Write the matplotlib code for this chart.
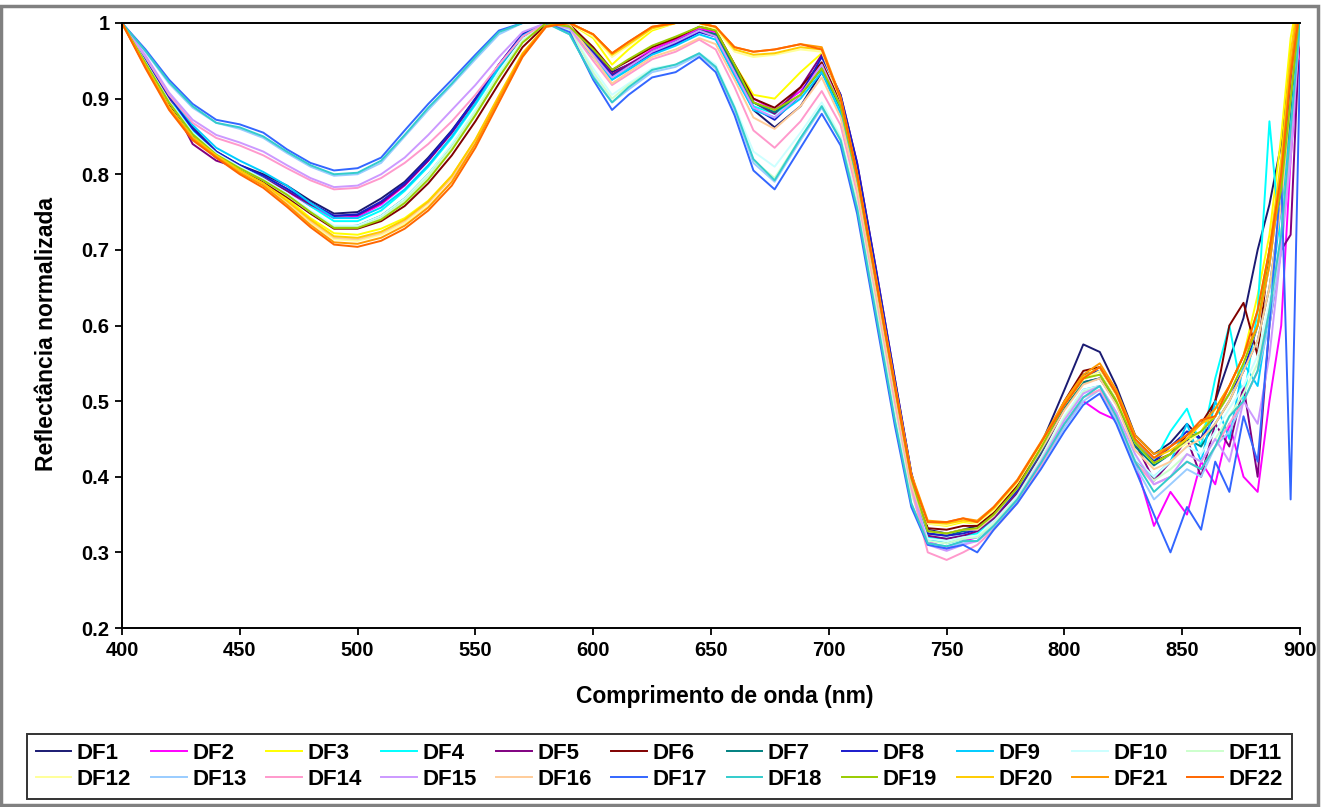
import matplotlib
matplotlib.use("Agg")
import matplotlib.pyplot as plt
from matplotlib.patches import Rectangle

plt.rcParams['font.family'] = ['Liberation Sans', 'DejaVu Sans']

# wavelength grid (nm)
wl = [400, 410, 420, 430, 440, 450, 460, 470, 480, 490, 500, 510, 520, 530, 540, 550, 560, 570, 580, 590,
      600, 608, 615, 625, 635, 645, 652, 660, 668, 677, 688, 697,
      705, 712, 720, 728, 735, 742, 750, 757, 763, 770, 780, 790, 800,
      808, 815, 822, 830, 838, 845, 852, 858, 864, 870, 876, 882, 887, 892, 896, 900]

names = ['DF%d' % i for i in range(1, 23)]
colors = ['#1a1a72', '#ff00ff', '#ffff00', '#00ffff', '#800080', '#800000', '#008080', '#1a1acc',
          '#00ccff', '#ccffff', '#ccffcc', '#ffff99', '#99ccff', '#ff99cc', '#cc99ff', '#ffcc99',
          '#3366ff', '#33cccc', '#99cc00', '#ffcc00', '#ff9900', '#ff6600']

DF1 = [1.00, 0.955, 0.905, 0.862, 0.830, 0.812, 0.800, 0.785, 0.765, 0.748, 0.750, 0.768, 0.790, 0.822, 0.858, 0.900, 0.945, 0.985, 1.00, 0.995,
       0.965, 0.935, 0.945, 0.960, 0.972, 0.990, 0.985, 0.935, 0.885, 0.862, 0.890, 0.935,
       0.890, 0.795, 0.655, 0.515, 0.395, 0.330, 0.325, 0.330, 0.335, 0.352, 0.388, 0.442, 0.515,
       0.575, 0.565, 0.520, 0.455, 0.430, 0.445, 0.470, 0.450, 0.500, 0.555, 0.610, 0.700, 0.760, 0.840, 0.950, 1.03]
DF2 = [1.00, 0.950, 0.900, 0.858, 0.828, 0.810, 0.795, 0.778, 0.758, 0.742, 0.744, 0.760, 0.785, 0.818, 0.855, 0.898, 0.945, 0.985, 1.00, 0.995,
       0.962, 0.932, 0.945, 0.965, 0.978, 0.992, 0.988, 0.945, 0.900, 0.885, 0.910, 0.945,
       0.895, 0.800, 0.660, 0.520, 0.400, 0.315, 0.305, 0.315, 0.320, 0.340, 0.372, 0.420, 0.470,
       0.500, 0.485, 0.475, 0.420, 0.335, 0.380, 0.350, 0.420, 0.390, 0.470, 0.400, 0.380, 0.500, 0.600, 0.820, 0.98]
DF3 = [1.00, 0.945, 0.890, 0.850, 0.826, 0.806, 0.790, 0.768, 0.742, 0.722, 0.720, 0.728, 0.742, 0.765, 0.798, 0.845, 0.902, 0.958, 0.995, 1.00,
       0.980, 0.945, 0.965, 0.990, 1.00, 1.00, 0.990, 0.945, 0.905, 0.900, 0.935, 0.960,
       0.900, 0.800, 0.662, 0.522, 0.402, 0.338, 0.335, 0.340, 0.338, 0.355, 0.390, 0.440, 0.495,
       0.530, 0.540, 0.505, 0.445, 0.420, 0.430, 0.445, 0.460, 0.490, 0.520, 0.560, 0.640, 0.720, 0.850, 0.980, 1.05]
DF4 = [1.00, 0.952, 0.900, 0.858, 0.828, 0.810, 0.796, 0.780, 0.758, 0.738, 0.738, 0.752, 0.778, 0.810, 0.848, 0.892, 0.940, 0.982, 1.00, 0.992,
       0.955, 0.925, 0.940, 0.960, 0.975, 0.990, 0.982, 0.935, 0.890, 0.880, 0.905, 0.940,
       0.885, 0.790, 0.650, 0.510, 0.390, 0.320, 0.318, 0.322, 0.325, 0.345, 0.380, 0.432, 0.495,
       0.535, 0.540, 0.500, 0.440, 0.420, 0.460, 0.490, 0.440, 0.530, 0.600, 0.500, 0.620, 0.870, 0.700, 0.900, 1.02]
DF5 = [1.00, 0.950, 0.900, 0.840, 0.818, 0.808, 0.795, 0.778, 0.760, 0.745, 0.746, 0.762, 0.786, 0.818, 0.855, 0.898, 0.942, 0.982, 1.00, 0.995,
       0.962, 0.932, 0.945, 0.962, 0.975, 0.990, 0.985, 0.940, 0.895, 0.880, 0.915, 0.958,
       0.905, 0.815, 0.675, 0.530, 0.405, 0.322, 0.318, 0.322, 0.328, 0.345, 0.378, 0.430, 0.490,
       0.525, 0.530, 0.500, 0.445, 0.395, 0.420, 0.450, 0.400, 0.470, 0.440, 0.520, 0.400, 0.600, 0.700, 0.720, 1.00]
DF6 = [1.00, 0.945, 0.893, 0.850, 0.822, 0.805, 0.790, 0.770, 0.748, 0.728, 0.728, 0.738, 0.758, 0.788, 0.825, 0.870, 0.920, 0.968, 0.998, 0.998,
       0.968, 0.938, 0.950, 0.968, 0.980, 0.995, 0.990, 0.945, 0.900, 0.888, 0.915, 0.948,
       0.895, 0.800, 0.662, 0.520, 0.400, 0.332, 0.330, 0.335, 0.335, 0.352, 0.388, 0.440, 0.500,
       0.540, 0.545, 0.510, 0.445, 0.420, 0.430, 0.455, 0.470, 0.500, 0.600, 0.630, 0.560, 0.700, 0.780, 0.900, 1.03]
DF7 = [1.00, 0.948, 0.896, 0.852, 0.825, 0.808, 0.792, 0.773, 0.750, 0.730, 0.732, 0.745, 0.768, 0.800, 0.838, 0.882, 0.930, 0.975, 1.00, 0.995,
       0.960, 0.930, 0.942, 0.962, 0.975, 0.990, 0.985, 0.940, 0.895, 0.882, 0.905, 0.940,
       0.888, 0.792, 0.652, 0.512, 0.392, 0.325, 0.322, 0.328, 0.330, 0.348, 0.382, 0.432, 0.490,
       0.525, 0.530, 0.498, 0.440, 0.415, 0.430, 0.450, 0.440, 0.470, 0.500, 0.540, 0.580, 0.650, 0.760, 0.880, 1.00]
DF8 = [1.00, 0.953, 0.903, 0.860, 0.830, 0.812, 0.798, 0.781, 0.762, 0.745, 0.747, 0.764, 0.788, 0.820, 0.857, 0.900, 0.945, 0.985, 1.00, 0.995,
       0.962, 0.930, 0.942, 0.960, 0.972, 0.988, 0.982, 0.935, 0.888, 0.872, 0.905, 0.955,
       0.905, 0.815, 0.675, 0.530, 0.405, 0.325, 0.322, 0.325, 0.330, 0.348, 0.382, 0.435, 0.495,
       0.535, 0.540, 0.505, 0.445, 0.420, 0.440, 0.460, 0.450, 0.480, 0.510, 0.540, 0.600, 0.680, 0.800, 0.920, 1.02]
DF9 = [1.00, 0.955, 0.906, 0.865, 0.835, 0.818, 0.803, 0.785, 0.762, 0.742, 0.742, 0.756, 0.780, 0.812, 0.850, 0.894, 0.942, 0.983, 1.00, 0.993,
       0.955, 0.925, 0.938, 0.958, 0.970, 0.985, 0.978, 0.930, 0.885, 0.875, 0.900, 0.935,
       0.880, 0.785, 0.645, 0.505, 0.385, 0.318, 0.312, 0.318, 0.320, 0.338, 0.372, 0.420, 0.478,
       0.515, 0.520, 0.485, 0.420, 0.400, 0.420, 0.470, 0.420, 0.500, 0.450, 0.550, 0.520, 0.620, 0.760, 0.860, 1.00]
DF10 = [1.00, 0.948, 0.897, 0.855, 0.828, 0.810, 0.794, 0.775, 0.752, 0.732, 0.732, 0.745, 0.768, 0.800, 0.840, 0.885, 0.935, 0.978, 1.00, 0.992,
        0.940, 0.905, 0.920, 0.940, 0.945, 0.960, 0.945, 0.890, 0.830, 0.810, 0.855, 0.895,
        0.850, 0.765, 0.630, 0.495, 0.380, 0.318, 0.315, 0.320, 0.322, 0.340, 0.375, 0.425, 0.480,
        0.515, 0.520, 0.485, 0.425, 0.400, 0.420, 0.440, 0.430, 0.460, 0.490, 0.520, 0.560, 0.630, 0.720, 0.850, 1.00]
DF11 = [1.00, 0.946, 0.895, 0.853, 0.826, 0.808, 0.792, 0.772, 0.750, 0.730, 0.730, 0.742, 0.765, 0.797, 0.836, 0.882, 0.932, 0.976, 1.00, 0.992,
        0.935, 0.900, 0.918, 0.938, 0.945, 0.958, 0.940, 0.885, 0.818, 0.795, 0.848, 0.890,
        0.848, 0.762, 0.628, 0.492, 0.378, 0.315, 0.312, 0.318, 0.320, 0.338, 0.372, 0.422, 0.478,
        0.512, 0.520, 0.480, 0.420, 0.395, 0.410, 0.430, 0.420, 0.450, 0.480, 0.510, 0.550, 0.620, 0.700, 0.840, 1.00]
DF12 = [1.00, 0.942, 0.888, 0.848, 0.824, 0.803, 0.786, 0.762, 0.736, 0.714, 0.712, 0.720, 0.735, 0.758, 0.790, 0.838, 0.896, 0.955, 0.995, 1.00,
        0.982, 0.955, 0.970, 0.992, 1.00, 1.00, 0.992, 0.962, 0.955, 0.958, 0.965, 0.962,
        0.898, 0.798, 0.660, 0.520, 0.400, 0.338, 0.336, 0.342, 0.338, 0.356, 0.392, 0.442, 0.495,
        0.528, 0.540, 0.505, 0.445, 0.418, 0.430, 0.445, 0.460, 0.480, 0.510, 0.550, 0.600, 0.680, 0.800, 0.950, 1.05]
DF13 = [1.00, 0.962, 0.920, 0.888, 0.868, 0.860, 0.848, 0.828, 0.810, 0.798, 0.800, 0.815, 0.850, 0.885, 0.918, 0.952, 0.985, 1.00, 1.00, 0.985,
        0.930, 0.895, 0.912, 0.935, 0.942, 0.958, 0.940, 0.885, 0.815, 0.790, 0.845, 0.888,
        0.845, 0.755, 0.615, 0.475, 0.365, 0.312, 0.308, 0.312, 0.315, 0.332, 0.368, 0.415, 0.465,
        0.500, 0.515, 0.475, 0.415, 0.370, 0.390, 0.410, 0.400, 0.440, 0.460, 0.500, 0.540, 0.600, 0.700, 0.850, 1.00]
DF14 = [1.00, 0.955, 0.905, 0.868, 0.848, 0.838, 0.825, 0.808, 0.792, 0.780, 0.782, 0.795, 0.815, 0.840, 0.870, 0.905, 0.945, 0.982, 1.00, 0.993,
        0.950, 0.918, 0.932, 0.952, 0.962, 0.978, 0.965, 0.915, 0.858, 0.835, 0.870, 0.910,
        0.865, 0.775, 0.640, 0.500, 0.385, 0.300, 0.290, 0.300, 0.310, 0.330, 0.365, 0.415, 0.470,
        0.505, 0.515, 0.480, 0.420, 0.390, 0.400, 0.420, 0.410, 0.440, 0.470, 0.500, 0.540, 0.620, 0.720, 0.850, 1.00]
DF15 = [1.00, 0.957, 0.908, 0.872, 0.852, 0.842, 0.830, 0.812, 0.795, 0.783, 0.785, 0.800, 0.822, 0.852, 0.885, 0.918, 0.955, 0.988, 1.00, 0.993,
        0.958, 0.928, 0.942, 0.962, 0.975, 0.990, 0.982, 0.935, 0.888, 0.875, 0.905, 0.945,
        0.890, 0.795, 0.655, 0.515, 0.392, 0.310, 0.302, 0.310, 0.315, 0.335, 0.370, 0.420, 0.475,
        0.510, 0.520, 0.485, 0.430, 0.390, 0.400, 0.430, 0.420, 0.450, 0.420, 0.500, 0.470, 0.560, 0.700, 0.820, 1.00]
DF16 = [1.00, 0.943, 0.888, 0.848, 0.824, 0.804, 0.787, 0.764, 0.738, 0.716, 0.714, 0.722, 0.738, 0.762, 0.795, 0.842, 0.900, 0.958, 0.995, 0.998,
        0.955, 0.920, 0.935, 0.955, 0.965, 0.980, 0.972, 0.925, 0.875, 0.860, 0.890, 0.928,
        0.875, 0.782, 0.645, 0.508, 0.390, 0.328, 0.325, 0.330, 0.330, 0.348, 0.385, 0.435, 0.488,
        0.522, 0.530, 0.495, 0.435, 0.410, 0.420, 0.440, 0.450, 0.470, 0.500, 0.540, 0.580, 0.650, 0.760, 0.900, 1.03]
DF17 = [1.00, 0.965, 0.925, 0.893, 0.872, 0.866, 0.855, 0.833, 0.815, 0.805, 0.808, 0.822, 0.858, 0.893, 0.925, 0.958, 0.990, 1.00, 1.00, 0.988,
        0.925, 0.885, 0.905, 0.928, 0.935, 0.955, 0.935, 0.878, 0.805, 0.780, 0.835, 0.880,
        0.838, 0.748, 0.608, 0.468, 0.360, 0.310, 0.305, 0.310, 0.300, 0.330, 0.365, 0.410, 0.460,
        0.495, 0.510, 0.470, 0.410, 0.350, 0.300, 0.360, 0.330, 0.420, 0.380, 0.480, 0.420, 0.600, 0.800, 0.370, 0.95]
DF18 = [1.00, 0.963, 0.922, 0.890, 0.868, 0.862, 0.850, 0.830, 0.812, 0.800, 0.802, 0.818, 0.852, 0.888, 0.920, 0.955, 0.988, 1.00, 1.00, 0.985,
        0.928, 0.895, 0.915, 0.938, 0.945, 0.960, 0.942, 0.888, 0.820, 0.792, 0.848, 0.890,
        0.845, 0.755, 0.615, 0.475, 0.365, 0.312, 0.308, 0.315, 0.315, 0.335, 0.370, 0.418, 0.470,
        0.505, 0.520, 0.480, 0.420, 0.380, 0.400, 0.420, 0.410, 0.440, 0.480, 0.500, 0.540, 0.620, 0.720, 0.860, 1.00]
DF19 = [1.00, 0.947, 0.895, 0.853, 0.826, 0.808, 0.792, 0.773, 0.750, 0.729, 0.729, 0.740, 0.762, 0.793, 0.832, 0.878, 0.928, 0.974, 1.00, 0.995,
        0.965, 0.938, 0.952, 0.970, 0.982, 0.995, 0.990, 0.945, 0.895, 0.885, 0.905, 0.940,
        0.890, 0.795, 0.658, 0.518, 0.398, 0.328, 0.325, 0.330, 0.332, 0.350, 0.385, 0.438, 0.495,
        0.530, 0.535, 0.500, 0.445, 0.418, 0.430, 0.450, 0.460, 0.480, 0.510, 0.550, 0.600, 0.700, 0.780, 0.900, 1.02]
DF20 = [1.00, 0.943, 0.889, 0.849, 0.825, 0.805, 0.788, 0.765, 0.740, 0.718, 0.716, 0.724, 0.740, 0.764, 0.798, 0.846, 0.904, 0.960, 0.996, 1.00,
        0.985, 0.958, 0.972, 0.993, 1.00, 1.00, 0.995, 0.965, 0.958, 0.960, 0.968, 0.965,
        0.900, 0.800, 0.662, 0.522, 0.402, 0.340, 0.338, 0.342, 0.340, 0.358, 0.394, 0.444, 0.498,
        0.532, 0.545, 0.510, 0.450, 0.425, 0.435, 0.450, 0.470, 0.480, 0.520, 0.560, 0.620, 0.700, 0.820, 0.960, 1.05]
DF21 = [1.00, 0.942, 0.887, 0.847, 0.823, 0.802, 0.785, 0.760, 0.733, 0.710, 0.708, 0.716, 0.732, 0.756, 0.790, 0.840, 0.900, 0.958, 0.996, 1.00,
        0.985, 0.960, 0.975, 0.995, 1.00, 1.00, 0.995, 0.968, 0.962, 0.965, 0.972, 0.968,
        0.902, 0.802, 0.664, 0.524, 0.404, 0.342, 0.340, 0.345, 0.342, 0.360, 0.396, 0.446, 0.500,
        0.535, 0.550, 0.515, 0.455, 0.430, 0.440, 0.455, 0.470, 0.490, 0.520, 0.560, 0.600, 0.680, 0.800, 0.940, 1.04]
DF22 = [1.00, 0.940, 0.885, 0.845, 0.822, 0.800, 0.782, 0.757, 0.730, 0.707, 0.704, 0.712, 0.728, 0.752, 0.785, 0.835, 0.895, 0.955, 0.995, 1.00,
        0.985, 0.960, 0.975, 0.995, 1.00, 1.00, 0.995, 0.968, 0.962, 0.965, 0.972, 0.965,
        0.900, 0.800, 0.660, 0.520, 0.400, 0.340, 0.340, 0.345, 0.340, 0.360, 0.395, 0.445, 0.495,
        0.530, 0.545, 0.510, 0.450, 0.425, 0.440, 0.455, 0.475, 0.480, 0.520, 0.560, 0.620, 0.700, 0.800, 0.930, 1.02]

series = [DF1, DF2, DF3, DF4, DF5, DF6, DF7, DF8, DF9, DF10, DF11,
          DF12, DF13, DF14, DF15, DF16, DF17, DF18, DF19, DF20, DF21, DF22]

fig = plt.figure(figsize=(13.27, 8.07), dpi=100)
fig.patch.set_facecolor('white')
ax = fig.add_axes([0.0919, 0.2218, 0.8878, 0.7497])

handles = []
for name, col, vals in zip(names, colors, series):
    h, = ax.plot(wl, vals, color=col, lw=1.4, label=name)
    handles.append(h)

ax.set_xlim(400, 900)
ax.set_ylim(0.2, 1.0)
ax.set_xticks(range(400, 901, 50))
ax.set_yticks([0.2, 0.3, 0.4, 0.5, 0.6, 0.7, 0.8, 0.9, 1.0])
ax.set_yticklabels(['0.2', '0.3', '0.4', '0.5', '0.6', '0.7', '0.8', '0.9', '1'])
ax.tick_params(direction='out', length=5, width=1.3, labelsize=14.5, colors='black', pad=4)
for lab in ax.get_xticklabels() + ax.get_yticklabels():
    lab.set_fontweight('bold')
ax.spines['right'].set_visible(False)
for s in ['left', 'bottom', 'top']:
    ax.spines[s].set_linewidth(1.4)
ax.set_xlabel('Comprimento de onda (nm)', fontsize=16.5, fontweight='bold')
ax.set_ylabel('Reflectância normalizada', fontsize=16.5, fontweight='bold')
ax.xaxis.set_label_coords(0.512, -0.095)
ax.yaxis.set_label_coords(-0.054, 0.486)

# legend laid out row by row: DF1..DF11 on top, DF12..DF22 below
order = []
for c in range(11):
    order.append(handles[c])
    order.append(handles[c + 11])
leg = fig.legend(order, [h.get_label() for h in order], ncol=11, mode='expand',
                 bbox_to_anchor=(0.0203, 0.0087, 0.953, 0.083), loc='center',
                 frameon=True, fancybox=False, edgecolor='black', handlelength=1.6,
                 handletextpad=0.25, borderaxespad=0, labelspacing=0.25,
                 prop={'weight': 'bold', 'size': 16})
leg.get_frame().set_linewidth(1.4)

# chart area border
fig.patches.append(Rectangle((0.001, 0.002), 0.992, 0.991, transform=fig.transFigure,
                             fill=False, edgecolor='#808080', lw=2.5))

plt.savefig('out.png', dpi=100)
